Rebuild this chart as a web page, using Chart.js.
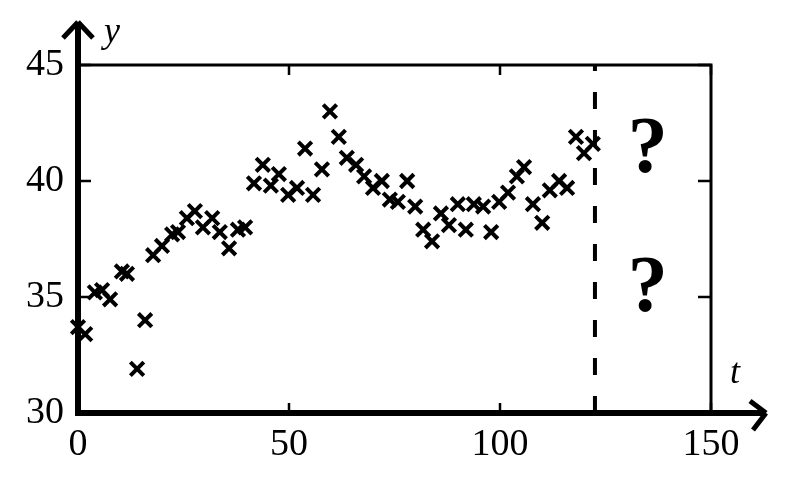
<!DOCTYPE html>
<html>
<head>
<meta charset="utf-8">
<script src="https://cdn.jsdelivr.net/npm/chart.js@4"></script>
<style>
  html, body { margin: 0; padding: 0; background: #fff; }
  #wrap { width: 786px; height: 498px; }
</style>
</head>
<body>
<div id="wrap"><canvas id="seriesChart"></canvas></div>
<script>
// 観測データ (t, y)
const tValues = [0,1.7,4,5.7,7.6,10.4,11.6,14,15.9,17.8,19.9,22.3,23.7,25.8,27.7,29.6,31.8,33.6,35.8,37.9,
    39.6,41.7,43.8,45.7,47.6,49.8,51.9,53.8,55.7,57.8,59.7,61.8,63.7,65.9,67.8,69.9,72,73.9,75.8,78,
    79.9,81.8,83.9,86,87.9,90,91.9,93.8,96,97.9,99.8,101.9,104,105.7,107.8,110,111.8,114,115.9,118,119.9,122];
const yValues = [33.7,33.4,35.2,35.3,34.9,36.1,36.0,31.9,34.0,36.8,37.2,37.7,37.8,38.4,38.7,38.0,38.4,37.8,37.1,37.9,
    38.0,39.9,40.7,39.8,40.3,39.4,39.7,41.4,39.4,40.5,43.0,41.9,41.0,40.7,40.2,39.7,40.0,39.2,39.1,40.0,
    38.9,37.9,37.4,38.6,38.1,39.0,37.9,39.0,38.9,37.8,39.1,39.5,40.2,40.6,39.0,38.2,39.6,40.0,39.7,41.9,41.2,41.6];

// 現在時点（破線）と予測の「?」
const cutT = 122.5;
const guessT = [135, 135];
const guessY = [40.4, 34.4];

// 目盛り
const xTicks = [0, 50, 100, 150];
const yTicks = [30, 35, 40, 45];

const serifFont = '"Liberation Serif", "DejaVu Serif", serif';

// 枠・矢印・内向き目盛り・軸ラベル・?を描くプラグイン
const framePlugin = {
    id: 'frame',
    afterDatasetsDraw(chart) {
        const ctx = chart.ctx;
        const a = chart.chartArea;
        const xs = chart.scales.x, ys = chart.scales.y;
        ctx.save();
        ctx.strokeStyle = '#000';
        ctx.fillStyle = '#000';
        ctx.lineCap = 'butt';

        // 上と右の細い枠
        ctx.lineWidth = 3;
        ctx.beginPath();
        ctx.moveTo(a.left, a.top);
        ctx.lineTo(a.right, a.top);
        ctx.lineTo(a.right, a.bottom);
        ctx.stroke();

        // 内向きの目盛り
        ctx.lineWidth = 2.5;
        ctx.beginPath();
        xTicks.forEach(v => {
            const px = xs.getPixelForValue(v);
            ctx.moveTo(px, a.bottom); ctx.lineTo(px, a.bottom - 10);
            ctx.moveTo(px, a.top); ctx.lineTo(px, a.top + 10);
        });
        yTicks.forEach(v => {
            const py = ys.getPixelForValue(v);
            ctx.moveTo(a.left, py); ctx.lineTo(a.left + 13, py);
            ctx.moveTo(a.right, py); ctx.lineTo(a.right - 13, py);
        });
        ctx.stroke();

        // 太い軸（矢印つき）
        ctx.lineWidth = 6;
        ctx.beginPath();
        ctx.moveTo(a.left, a.bottom + 3);
        ctx.lineTo(a.left, 23);
        ctx.moveTo(a.left - 3, a.bottom);
        ctx.lineTo(766, a.bottom);
        ctx.stroke();
        ctx.lineWidth = 5;
        ctx.lineJoin = 'miter';
        ctx.beginPath();
        ctx.moveTo(a.left - 15, 38);
        ctx.lineTo(a.left, 22);
        ctx.moveTo(a.left, 22);
        ctx.lineTo(a.left + 15, 38);
        ctx.moveTo(750, a.bottom - 12);
        ctx.lineTo(766, a.bottom);
        ctx.moveTo(766, a.bottom);
        ctx.lineTo(753, a.bottom + 17);
        ctx.stroke();

        // 軸ラベル
        ctx.font = 'italic 36px ' + serifFont;
        ctx.textAlign = 'left';
        ctx.textBaseline = 'alphabetic';
        ctx.fillText('y', 104, 42);
        ctx.fillText('t', 730, 383);

        // ?
        ctx.font = 'bold 80px ' + serifFont;
        ctx.textAlign = 'center';
        guessT.forEach((t, i) => {
            ctx.fillText('?', xs.getPixelForValue(t), ys.getPixelForValue(guessY[i]));
        });
        ctx.restore();
    }
};

const chartCtx = document.getElementById('seriesChart').getContext('2d');

const seriesChart = new Chart(chartCtx, {
    type: 'scatter',
    data: {
        datasets: [
            {
                label: 'y',
                data: tValues.map((t, i) => ({ x: t, y: yValues[i] })),
                pointStyle: 'crossRot',
                pointRadius: 9.5,
                pointHoverRadius: 9.5,
                borderColor: '#000',
                backgroundColor: '#000',
                pointBorderWidth: 4,
                clip: false
            },
            {
                type: 'line',
                label: 'cut',
                data: [{ x: cutT, y: 30 }, { x: cutT, y: 45 }],
                borderColor: '#000',
                borderWidth: 4,
                borderDash: [17, 21],
                pointRadius: 0,
                clip: false
            }
        ]
    },
    options: {
        responsive: true,
        maintainAspectRatio: false,
        animation: false,
        layout: { padding: { top: 65, right: 75, left: 0, bottom: 0 } },
        plugins: {
            legend: { display: false },
            tooltip: { enabled: false }
        },
        scales: {
            x: {
                type: 'linear',
                min: 0,
                max: 150,
                afterFit(scale) { scale.height = 85; },
                afterBuildTicks(scale) { scale.ticks = xTicks.map(v => ({ value: v })); },
                grid: { display: false, drawTicks: false },
                border: { display: false },
                ticks: {
                    color: '#000',
                    padding: 9,
                    maxRotation: 0,
                    font: { family: serifFont, size: 38 }
                }
            },
            y: {
                type: 'linear',
                min: 30,
                max: 45,
                afterFit(scale) { scale.width = 78; },
                afterBuildTicks(scale) { scale.ticks = yTicks.map(v => ({ value: v })); },
                grid: { display: false, drawTicks: false },
                border: { display: false },
                ticks: {
                    color: '#000',
                    padding: 14,
                    font: { family: serifFont, size: 38 }
                }
            }
        }
    },
    plugins: [framePlugin]
});
</script>
</body>
</html>
